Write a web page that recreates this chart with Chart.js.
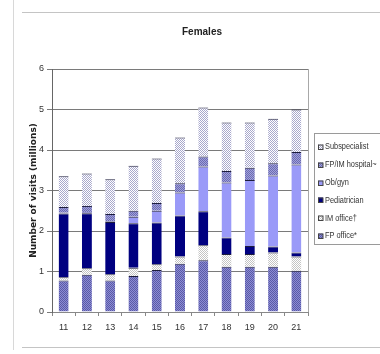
<!DOCTYPE html>
<html>

<head>
  <script src="https://cdn.jsdelivr.net/npm/chart.js"></script>
  <style>
    body { margin: 0; background: #fff; }
    #wrap { position: relative; width: 380px; height: 354px; overflow: hidden; }
    .rule { position: absolute; background: #c4c4c4; }
  </style>
</head>

<body>
  <div id="wrap">
    <div class="rule" style="left:13px; top:0; width:1px; height:350px; background:#d8d8d8"></div>
    <div class="rule" style="left:22px; top:12px; width:358px; height:1px"></div>
    <div class="rule" style="left:22px; top:347px; width:358px; height:1px"></div>
    <canvas id="femaleChart" width="380" height="354" style="position:absolute; left:0; top:0"></canvas>
  </div>

  <script>
    // ages / years along the bottom
    const years = ['11', '12', '13', '14', '15', '16', '17', '18', '19', '20', '21'];

    // visits in millions (stacked bottom -> top)
    const fpOffice = [0.78, 0.92, 0.78, 0.89, 1.04, 1.19, 1.28, 1.12, 1.12, 1.12, 1.02];
    const imOffice = [0.08, 0.16, 0.15, 0.20, 0.14, 0.18, 0.37, 0.31, 0.31, 0.35, 0.35];
    const pediatrician = [1.57, 1.36, 1.29, 1.10, 1.03, 1.01, 0.84, 0.41, 0.20, 0.15, 0.10];
    const obGyn = [0.02, 0.03, 0.02, 0.16, 0.29, 0.57, 1.10, 1.36, 1.63, 1.75, 2.17];
    const fpImHospital = [0.14, 0.15, 0.18, 0.15, 0.19, 0.23, 0.25, 0.28, 0.30, 0.30, 0.31];
    const subspecialist = [0.76, 0.80, 0.86, 1.11, 1.10, 1.13, 1.21, 1.20, 1.12, 1.10, 1.05];

    const yTicks = [0, 1, 2, 3, 4, 5, 6];

    // little dithered fills, like the old spreadsheet patterns
    function dots(base, dot, step) {
      const c = document.createElement('canvas');
      c.width = step; c.height = step;
      const g = c.getContext('2d');
      g.fillStyle = base;
      g.fillRect(0, 0, step, step);
      g.fillStyle = dot;
      g.fillRect(0, 0, 1, 1);
      g.fillRect(step / 2, step / 2, 1, 1);
      return g.createPattern(c, 'repeat');
    }

    const ctx = document.getElementById('femaleChart').getContext('2d');

    const fills = {
      fp: dots('#8c8cd4', '#5a5aa6', 2),
      im: dots('#ffffff', '#c4c4c4', 2),
      ped: '#000080',
      ob: '#9a9af8',
      hosp: dots('#a0a0de', '#6c6cae', 2),
      sub: dots('#ffffff', '#a8a8cc', 2)
    };

    const mk = (label, data, fill) => ({
      label: label,
      data: data,
      backgroundColor: fill,
      borderColor: '#1c1c3c',
      borderWidth: { top: 1, left: 0, right: 0, bottom: 0 },
      borderSkipped: false,
      barPercentage: 0.43,
      categoryPercentage: 1
    });

    const narrow = '"Liberation Sans Narrow", "Liberation Sans", Arial, sans-serif';

    // draws the boxed legend on the right and the plot frame
    const sideLegend = {
      id: 'sideLegend',
      afterDraw(chart) {
        const c = chart.ctx;
        const a = chart.chartArea;
        c.save();
        c.strokeStyle = '#a8a8a8';
        c.lineWidth = 1;
        c.beginPath();
        c.moveTo(a.right + 0.5, a.top);
        c.lineTo(a.right + 0.5, a.bottom);
        c.stroke();

        c.strokeStyle = '#9a9a9a';
        c.strokeRect(314.5, 133.5, 80, 111);

        const ds = chart.data.datasets;
        c.font = '9px ' + narrow;
        c.textBaseline = 'middle';
        for (let i = ds.length - 1, row = 0; i >= 0; i--, row++) {
          const y = 147 + row * 17.8;
          c.fillStyle = ds[i].backgroundColor;
          c.fillRect(318, Math.round(y) - 2.5, 5, 5);
          c.strokeStyle = '#444';
          c.strokeRect(318.5, Math.round(y) - 2, 4.5, 4.5);
          // squeeze the label a bit, the scan uses a condensed face
          c.save();
          c.translate(325, y);
          c.scale(0.82, 1);
          c.fillStyle = '#333';
          c.fillText(ds[i].label, 0, 0);
          c.restore();
        }
        c.restore();
      }
    };

    new Chart(ctx, {
      type: 'bar',
      data: {
        labels: years,
        datasets: [
          mk('FP office*', fpOffice, fills.fp),
          mk('IM office\u2020', imOffice, fills.im),
          mk('Pediatrician', pediatrician, fills.ped),
          mk('Ob/gyn', obGyn, fills.ob),
          mk('FP/IM hospital~', fpImHospital, fills.hosp),
          mk('Subspecialist', subspecialist, fills.sub)
        ]
      },
      options: {
        responsive: false,
        animation: false,
        layout: { padding: { left: 24, right: 0, top: 0, bottom: 0 } },
        plugins: {
          legend: { display: false },
          tooltip: { enabled: false },
          title: {
            display: true,
            text: 'Females',
            color: '#222',
            font: { family: narrow, size: 10, weight: 'bold' },
            padding: { top: 26, bottom: 31 }
          }
        },
        scales: {
          x: {
            stacked: true,
            afterFit(s) { s.height = 42; },
            grid: { display: true, drawOnChartArea: false, tickLength: 4, color: '#888' },
            border: { color: '#888' },
            ticks: { color: '#333', padding: 6, font: { family: narrow, size: 9 } }
          },
          y: {
            stacked: true,
            min: 0,
            max: 6,
            afterFit(s) { s.width = 28; },
            afterBuildTicks(s) { s.ticks = yTicks.map(v => ({ value: v })); },
            grid: { color: '#7a7a7a', tickLength: 5 },
            border: { color: '#666' },
            ticks: { color: '#333', padding: 3, font: { family: narrow, size: 9 } },
            title: {
              display: true,
              text: 'Number of visits (millions)',
              color: '#222',
              padding: { top: 4, bottom: 0 },
              font: { family: '"DejaVu Sans"', size: 9, weight: 'bold' }
            }
          },
          // empty right-hand axis that only reserves room for the legend
          side: {
            position: 'right',
            display: true,
            afterFit(s) { s.width = 72; },
            grid: { display: false },
            border: { display: false },
            ticks: { display: false }
          }
        }
      },
      plugins: [sideLegend]
    });
  </script>
</body>

</html>
